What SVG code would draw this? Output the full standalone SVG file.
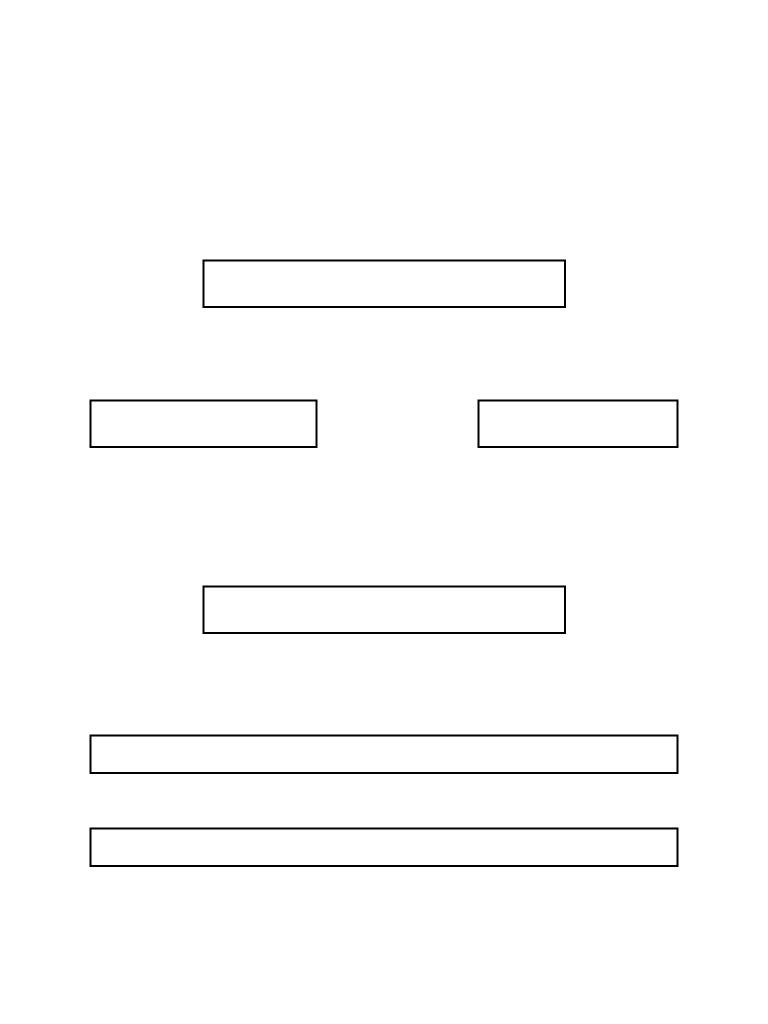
<svg xmlns="http://www.w3.org/2000/svg" width="768" height="1024" viewBox="0 0 768 1024">
<style>
.box{fill:#ffffff;stroke:#000000;stroke-width:2}
</style>
<rect x="0" y="0" width="768" height="1024" fill="#ffffff"/>
<g id="connectors"></g>
<g id="node1"><rect class="box" x="203.5" y="260.5" width="361.5" height="46.5"/></g>
<g id="node2"><rect class="box" x="90.5" y="400.5" width="226" height="46.5"/></g>
<g id="node3"><rect class="box" x="478.5" y="400.5" width="199" height="46.5"/></g>
<g id="node4"><rect class="box" x="203.5" y="586.5" width="361.5" height="46.5"/></g>
<g id="node5"><rect class="box" x="90.5" y="735.5" width="587" height="37.5"/></g>
<g id="node6"><rect class="box" x="90.5" y="828.5" width="587" height="37.5"/></g>
</svg>
